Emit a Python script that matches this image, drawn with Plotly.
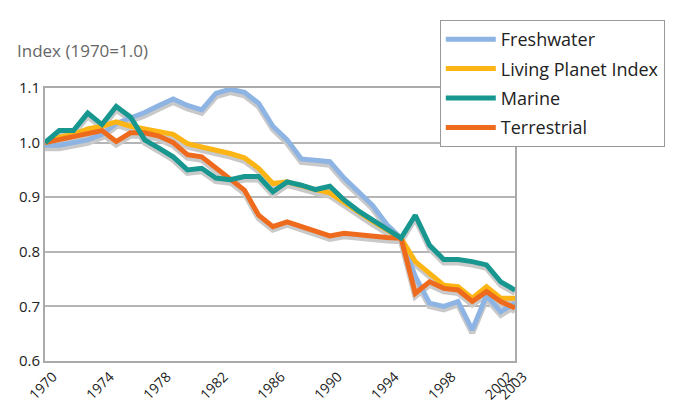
import plotly.graph_objects as go

years = list(range(1970, 2004))

freshwater = [0.995, 0.995, 1.0, 1.005, 1.015, 1.035, 1.045, 1.055, 1.068, 1.08,
              1.068, 1.06, 1.09, 1.098, 1.092, 1.072, 1.03, 1.005, 0.97, 0.968,
              0.965, 0.935, 0.91, 0.885, 0.85, 0.825, 0.755, 0.706, 0.70, 0.709,
              0.657, 0.72, 0.69, 0.706]
lpi = [1.0, 1.01, 1.015, 1.025, 1.03, 1.038, 1.03, 1.025, 1.022, 1.015,
       0.998, 0.993, 0.986, 0.98, 0.972, 0.953, 0.925, 0.928, 0.92, 0.914,
       0.908, 0.89, 0.872, 0.856, 0.84, 0.825, 0.782, 0.76, 0.739, 0.736,
       0.715, 0.736, 0.715, 0.715]
marine = [1.0, 1.022, 1.022, 1.054, 1.033, 1.066, 1.047, 1.005, 0.99, 0.974,
          0.95, 0.953, 0.935, 0.932, 0.938, 0.938, 0.91, 0.928, 0.922, 0.914,
          0.92, 0.895, 0.875, 0.858, 0.842, 0.825, 0.867, 0.812, 0.786, 0.786,
          0.782, 0.776, 0.745, 0.73]
terrestrial = [1.0, 1.005, 1.01, 1.015, 1.022, 1.002, 1.018, 1.018, 1.012, 1.0,
               0.978, 0.974, 0.953, 0.932, 0.913, 0.867, 0.846, 0.855, 0.846, 0.837,
               0.829, 0.834, 0.831, 0.828, 0.826, 0.825, 0.724, 0.745, 0.733, 0.73,
               0.709, 0.727, 0.709, 0.697]

x_tick_vals = [1970, 1974, 1978, 1982, 1986, 1990, 1994, 1998, 2002, 2003]
y_tick_vals = [0.6, 0.7, 0.8, 0.9, 1.0, 1.1]

# drawing order (bottom to top), with legend rank
series = [
    ("Freshwater", freshwater, "#8db4e3", 1),
    ("Living Planet Index", lpi, "#fdb515", 2),
    ("Terrestrial", terrestrial, "#ee6b1e", 4),
    ("Marine", marine, "#17978f", 3),
]

fig = go.Figure()
# shadows on the main (slightly shifted, hidden) y axis
for name, vals, color, rank in series:
    fig.add_trace(go.Scatter(x=years, y=vals, mode="lines",
                             line=dict(color="#c9c9c9", width=6),
                             showlegend=False, hoverinfo="skip"))
# coloured lines on the visible overlay axis
for name, vals, color, rank in series:
    fig.add_trace(go.Scatter(x=years, y=vals, mode="lines", name=name, yaxis="y2",
                             legendgroup=name, legendrank=rank,
                             line=dict(color=color, width=5)))

font_family = "Open Sans, Noto Sans, sans-serif"
shift = 0.0055

# the page body adds an 8px offset, so the figure is 8px smaller than the window
fig.update_layout(
    width=670, height=395,
    margin=dict(l=37, r=163, t=80, b=42),
    paper_bgcolor="white", plot_bgcolor="white",
    font=dict(family=font_family, color="#333333", size=14),
    xaxis=dict(range=[1970, 2003], tickvals=x_tick_vals, tickangle=-45,
               showgrid=False, zeroline=False, showline=True, mirror=True,
               linecolor="#aaaaaa", linewidth=2, ticks="", automargin=False,
               ticklabelshift=8, ticklabelstandoff=0,
               tickfont=dict(size=14, color="#222222")),
    yaxis=dict(range=[0.6 + shift, 1.1 + shift], showticklabels=False,
               showgrid=False, zeroline=False, showline=False, ticks="",
               automargin=False),
    yaxis2=dict(range=[0.6, 1.1], overlaying="y", side="left",
                tickvals=y_tick_vals, tickformat=".1f",
                showgrid=True, gridcolor="#b5b5b5", gridwidth=1.5,
                zeroline=False, showline=True, mirror=True, automargin=False,
                linecolor="#aaaaaa", linewidth=2, ticks="",
                tickfont=dict(size=15, color="#222222")),
    legend=dict(x=0.84, y=1.249, xanchor="left", yanchor="top",
                bordercolor="#999999", borderwidth=1, bgcolor="white",
                font=dict(size=18, color="#222222"), itemwidth=50,
                tracegroupgap=3, traceorder="grouped"),
    annotations=[dict(text="Index (1970=1.0)", xref="paper", yref="paper",
                      x=-0.064, y=1.139, xanchor="left", yanchor="middle",
                      showarrow=False, font=dict(size=17, color="#666666"))],
)

fig.write_html("out.html")
